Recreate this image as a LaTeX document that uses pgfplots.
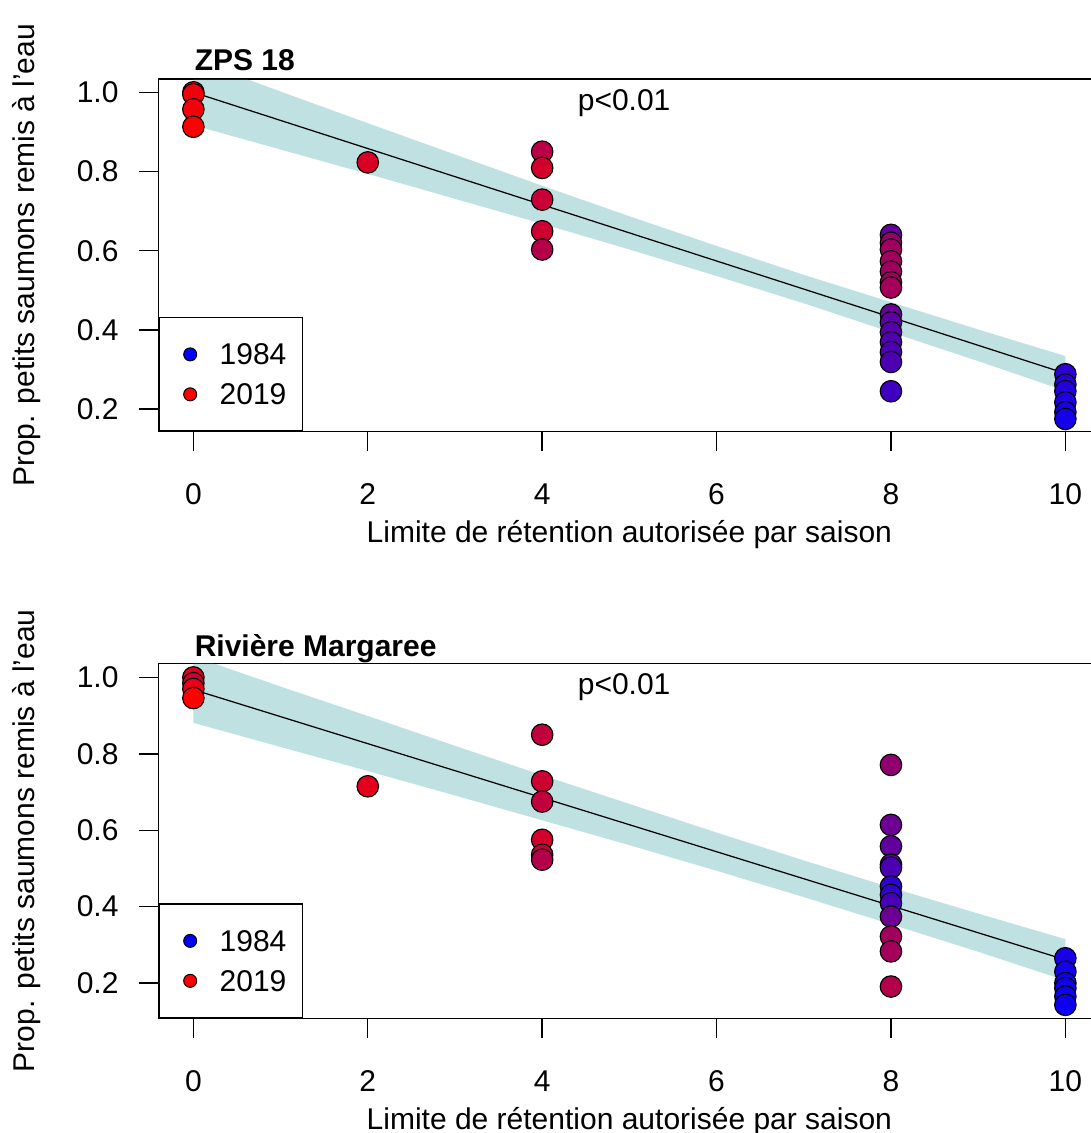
\documentclass[12pt,border=0pt]{standalone}
\usepackage{fontspec}
\setmainfont{Liberation Sans}
\usepackage{pgfplots}
\usepackage{pgfplotstable}
\pgfplotsset{compat=1.18}

\pgfplotstableread{
x y c
0 1.000 1.00
0 0.995 0.95
0 0.957 0.95
0 0.913 1.00
2 0.823 0.85
4 0.850 0.72
4 0.809 0.82
4 0.729 0.78
4 0.649 0.80
4 0.603 0.70
8 0.640 0.38
8 0.620 0.58
8 0.603 0.62
8 0.573 0.63
8 0.547 0.62
8 0.520 0.63
8 0.507 0.64
8 0.439 0.40
8 0.419 0.36
8 0.394 0.33
8 0.369 0.32
8 0.344 0.30
8 0.319 0.30
8 0.245 0.25
10 0.288 0.18
10 0.262 0.15
10 0.245 0.14
10 0.217 0.12
10 0.192 0.10
10 0.175 0.08
}\topdata

\pgfplotstableread{
x y c
0 1.000 0.85
0 0.985 0.80
0 0.970 0.90
0 0.946 1.00
2 0.715 0.88
4 0.850 0.75
4 0.728 0.80
4 0.675 0.75
4 0.575 0.82
4 0.536 0.78
4 0.523 0.70
8 0.771 0.56
8 0.614 0.42
8 0.558 0.38
8 0.510 0.34
8 0.502 0.30
8 0.453 0.18
8 0.431 0.20
8 0.409 0.28
8 0.374 0.42
8 0.322 0.63
8 0.283 0.64
8 0.191 0.70
10 0.265 0.10
10 0.230 0.08
10 0.200 0.06
10 0.187 0.06
10 0.165 0.05
10 0.143 0.05
}\botdata

\definecolor{bandcol}{RGB}{0,139,139}

\pgfplotsset{
  colormap={br}{rgb255=(0,0,255) rgb255=(255,0,0)},
  panel/.style={
    scale only axis, width=376.7pt,
    xmin=-0.4, xmax=10.4,
    axis line style={line width=0.55pt, black},
    every tick/.style={black, line width=0.55pt},
    tick align=outside, major tick length=7.8pt, tick pos=left,
    xtick={0,2,4,6,8,10}, xticklabels={0,2,4,6,8,10},
    ytick={0.2,0.4,0.6,0.8,1.0}, yticklabels={0.2,0.4,0.6,0.8,1.0},
    xticklabel style={anchor=base, inner sep=0pt, yshift=-21.4pt},
    yticklabel style={anchor=east, inner sep=0pt, xshift=-8pt},
    xlabel={Limite de rétention autorisée par saison},
    ylabel={Prop. petits saumons remis à l’eau},
    ylabel style={at={(axis description cs:-0.1396,0.5)}, anchor=center, inner sep=0pt},
    every axis title shift=0pt,
    title style={anchor=base west, inner sep=0pt, yshift=0pt, font=\bfseries},
    point meta min=0, point meta max=1,
    legend style={at={(0,0)}, anchor=south west, draw=black, line width=0.55pt,
      fill=white, inner xsep=6.5pt, inner ysep=10.5pt, row sep=7.6pt,
      column sep=5.9pt, nodes={inner sep=0pt, text depth=0pt}, cells={anchor=west}},
    legend image code/.code={\path[draw=none, fill=none] (0pt,-2pt) rectangle (11.8pt,2pt);
      \draw[#1] plot coordinates {(5.9pt,0pt)};},
  },
  pts/.style={scatter, only marks, mark=*, mark size=4.3pt, point meta=explicit,
    scatter/use mapped color={draw=black, fill=mapped color},
    mark options={line width=0.45pt}, forget plot},
}

\begin{document}
\begin{tikzpicture}
\fill[white] (0,0) rectangle (436.4pt,453.2pt);

% ---------- top panel ----------
\begin{axis}[panel,
  at={(63.4pt,280.5pt)}, anchor=south west,
  height=141.1pt, ymin=0.1427, ymax=1.0336,
  title={ZPS 18},
  title style={at={(axis description cs:0.038,1.0234)}},
  xlabel style={at={(axis description cs:0.5,-0.3147)}, anchor=base, inner sep=0pt},
]
\addplot[pts] table[x=x, y=y, meta=c] {\topdata};
\addplot[fill=bandcol, fill opacity=0.25, draw=none, forget plot] coordinates {
 (0,1.083) (1,1.002) (2,0.922) (3,0.843) (4,0.764) (5,0.687) (6,0.612) (7,0.539) (8,0.470) (9,0.401) (10,0.334)
 (10,0.246) (9,0.321) (8,0.394) (7,0.467) (6,0.536) (5,0.603) (4,0.668) (3,0.731) (2,0.794) (1,0.8555) (0,0.917)
};
\addplot[black, line width=0.5pt, forget plot] coordinates {(0,1.0) (10,0.29)};
\node[anchor=base] at (axis cs:4.94,0.955) {p<0.01};
\addlegendimage{only marks, mark=*, mark size=2.6pt, mark options={fill=blue, draw=black, line width=0.4pt}}
\addlegendentry{1984}
\addlegendimage{only marks, mark=*, mark size=2.6pt, mark options={fill=red, draw=black, line width=0.4pt}}
\addlegendentry{2019}
\end{axis}

% ---------- bottom panel ----------
\begin{axis}[panel,
  at={(63.4pt,45.9pt)}, anchor=south west,
  height=142pt, ymin=0.108, ymax=1.037,
  title={Rivière Margaree},
  title style={at={(axis description cs:0.038,1.018)}},
  xlabel style={at={(axis description cs:0.5,-0.3127)}, anchor=base, inner sep=0pt},
]
\addplot[pts] table[x=x, y=y, meta=c] {\botdata};
\addplot[fill=bandcol, fill opacity=0.25, draw=none, forget plot] coordinates {
 (0,1.055) (1,0.976) (2,0.899) (3,0.821) (4,0.744) (5,0.669) (6,0.594) (7,0.521) (8,0.450) (9,0.382) (10,0.315)
 (10,0.207) (9,0.282) (8,0.354) (7,0.425) (6,0.494) (5,0.561) (4,0.626) (3,0.691) (2,0.755) (1,0.818) (0,0.881)
};
\addplot[black, line width=0.5pt, forget plot] coordinates {(0,0.968) (10,0.261)};
\node[anchor=base] at (axis cs:4.94,0.955) {p<0.01};
\addlegendimage{only marks, mark=*, mark size=2.6pt, mark options={fill=blue, draw=black, line width=0.4pt}}
\addlegendentry{1984}
\addlegendimage{only marks, mark=*, mark size=2.6pt, mark options={fill=red, draw=black, line width=0.4pt}}
\addlegendentry{2019}
\end{axis}

\pgfresetboundingbox
\path (0,0) rectangle (436.4pt,453.2pt);
\end{tikzpicture}
\end{document}
